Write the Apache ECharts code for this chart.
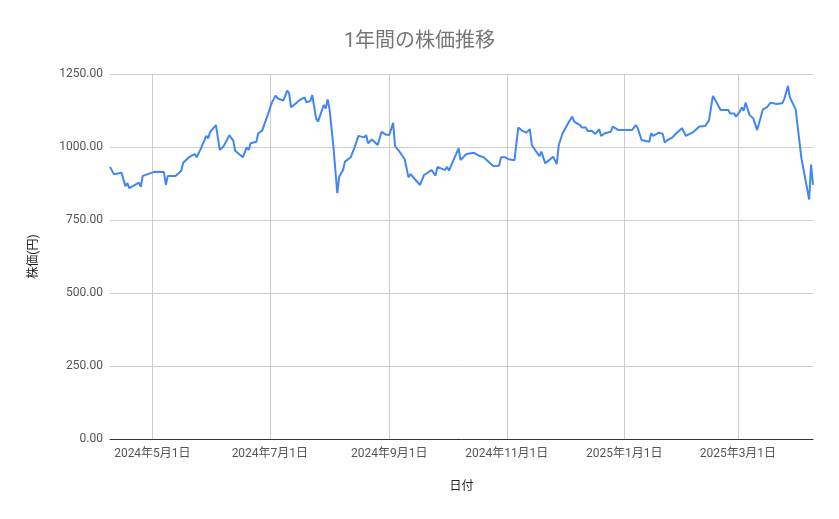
<!DOCTYPE html>
<html>
<head>
<meta charset="utf-8">
<script src="https://cdn.jsdelivr.net/npm/echarts@6/dist/echarts.min.js"></script>
<style>
html,body{margin:0;padding:0;background:#fff;}
#chart{width:839px;height:519px;}
</style>
</head>
<body>
<div id="chart"></div>
<script>
const titleText = '1年間の株価推移';
const xAxisName = '日付';
const yAxisName = '株価(円)';
const dates = [
'2024-04-09','2024-04-11','2024-04-15','2024-04-16','2024-04-17','2024-04-18','2024-04-19','2024-04-24','2024-04-25','2024-04-26',
'2024-05-02','2024-05-07','2024-05-08','2024-05-09','2024-05-13','2024-05-16','2024-05-17','2024-05-20','2024-05-21','2024-05-23',
'2024-05-24','2024-05-26','2024-05-29','2024-05-30','2024-05-31','2024-06-03','2024-06-05','2024-06-07','2024-06-10','2024-06-12',
'2024-06-13','2024-06-17','2024-06-19','2024-06-20','2024-06-21','2024-06-24','2024-06-25','2024-06-27','2024-06-30','2024-07-02',
'2024-07-03','2024-07-04','2024-07-05','2024-07-08','2024-07-10','2024-07-11','2024-07-12','2024-07-15','2024-07-16','2024-07-17',
'2024-07-19','2024-07-20','2024-07-22','2024-07-23','2024-07-25','2024-07-26','2024-07-29','2024-07-30','2024-07-31','2024-08-01',
'2024-08-03','2024-08-05','2024-08-06','2024-08-08','2024-08-09','2024-08-12','2024-08-14','2024-08-16','2024-08-19','2024-08-20',
'2024-08-21','2024-08-23','2024-08-26','2024-08-28','2024-08-30','2024-09-01','2024-09-03','2024-09-04','2024-09-06','2024-09-09',
'2024-09-11','2024-09-12','2024-09-17','2024-09-19','2024-09-23','2024-09-25','2024-09-26','2024-09-27','2024-09-30','2024-10-01',
'2024-10-02','2024-10-07','2024-10-08','2024-10-11','2024-10-15','2024-10-18','2024-10-20','2024-10-25','2024-10-28','2024-10-29',
'2024-10-31','2024-11-02','2024-11-05','2024-11-07','2024-11-09','2024-11-11','2024-11-13','2024-11-14','2024-11-16','2024-11-18',
'2024-11-19','2024-11-21','2024-11-23','2024-11-25','2024-11-27','2024-11-28','2024-11-30','2024-12-03','2024-12-04','2024-12-05',
'2024-12-06','2024-12-09','2024-12-10','2024-12-12','2024-12-13','2024-12-15','2024-12-17','2024-12-18','2024-12-19','2024-12-20',
'2024-12-22','2024-12-25','2024-12-26','2024-12-29','2025-01-05','2025-01-07','2025-01-08','2025-01-10','2025-01-14','2025-01-15',
'2025-01-16','2025-01-19','2025-01-21','2025-01-22','2025-01-23','2025-01-26','2025-01-28','2025-01-29','2025-01-31','2025-02-02',
'2025-02-06','2025-02-09','2025-02-12','2025-02-14','2025-02-16','2025-02-18','2025-02-20','2025-02-24','2025-02-25','2025-02-27',
'2025-02-28','2025-03-02','2025-03-03','2025-03-04','2025-03-05','2025-03-07','2025-03-09','2025-03-11','2025-03-12','2025-03-14',
'2025-03-16','2025-03-18','2025-03-21','2025-03-24','2025-03-25','2025-03-27','2025-03-28','2025-03-31','2025-04-01','2025-04-03',
'2025-04-07','2025-04-08','2025-04-09'
];
const prices = [
932,907,912,910,866,876,859,878,864,901,
915,914,870,901,901,919,946,965,961,976,
965,992,1038,1030,1052,1075,990,1003,1040,1022,
987,965,999,990,1013,1018,1047,1056,1112,1152,
1155,1176,1167,1159,1193,1184,1136,1152,1159,1155,
1170,1153,1158,1178,1098,1087,1144,1132,1163,1129,
1001,842,898,921,950,965,999,1038,1033,1041,
1013,1026,1007,1052,1043,1041,1083,1003,987,958,
896,907,870,904,921,902,932,928,921,932,
919,995,955,976,980,969,965,935,936,965,
965,958,955,1067,1056,1049,1061,1007,987,969,
984,944,955,967,942,1007,1047,1083,1079,1104,
1087,1075,1067,1067,1055,1056,1045,1041,1061,1038,
1047,1052,1070,1058,1058,1075,1064,1024,1018,1047,
1038,1049,1045,1015,1022,1033,1047,1045,1064,1038,
1052,1070,1072,1091,1175,1152,1127,1127,1115,1115,
1104,1121,1136,1124,1152,1110,1098,1058,1081,1129,
1136,1152,1147,1150,1163,1209,1170,1129,1124,961,
820,940,870
];
const xTickDates = ['2024-05-01','2024-07-01','2024-09-01','2024-11-01','2025-01-01','2025-03-01'];
const xRange = ['2024-04-09','2025-04-09'];
const yTicks = [0, 250, 500, 750, 1000, 1250];

function ts(s) {
  const p = s.split('-').map(Number);
  return new Date(p[0], p[1] - 1, p[2]).getTime();
}

const FONT = 'Roboto, "Noto Sans CJK JP", sans-serif';
const chart = echarts.init(document.getElementById('chart'), null, {renderer: 'canvas'});
const seriesData = dates.map((d, i) => [ts(d), prices[i]]);
const xTickValues = xTickDates.map(ts);
const option = {
  backgroundColor: '#ffffff',
  animation: false,
  title: {
    text: titleText,
    left: 'center',
    top: 27,
    textStyle: {fontFamily: FONT, fontSize: 20, fontWeight: 'normal', color: '#757575'}
  },
  grid: {left: 110, right: 26, top: 74, bottom: 80, containLabel: false},
  xAxis: {
    type: 'value',
    min: ts(xRange[0]),
    max: ts(xRange[1]),
    name: xAxisName,
    nameLocation: 'middle',
    nameGap: 42,
    nameTextStyle: {fontFamily: FONT, fontSize: 12, color: '#222'},
    axisLine: {show: true, onZero: false, lineStyle: {color: '#333', width: 1}},
    axisTick: {show: false, customValues: xTickValues},
    axisLabel: {
      customValues: xTickValues,
      fontFamily: FONT, fontSize: 12, color: '#555', margin: 9,
      formatter: function (v) {
        const d = new Date(v);
        return d.getFullYear() + '年' + (d.getMonth() + 1) + '月' + d.getDate() + '日';
      }
    },
    splitLine: {show: true, lineStyle: {color: '#cccccc', width: 1}}
  },
  yAxis: {
    type: 'value',
    min: yTicks[0],
    max: yTicks[yTicks.length - 1],
    interval: 250,
    name: yAxisName,
    nameLocation: 'middle',
    nameGap: 70,
    nameRotate: 90,
    nameTextStyle: {fontFamily: FONT, fontSize: 12, color: '#222'},
    axisLine: {show: false},
    axisTick: {show: false},
    axisLabel: {
      fontFamily: FONT, fontSize: 12, color: '#555', margin: 7,
      formatter: function (v) { return v.toFixed(2); }
    },
    splitLine: {show: true, lineStyle: {color: '#cccccc', width: 1}}
  },
  series: [{
    type: 'line',
    data: seriesData,
    showSymbol: false,
    symbol: 'none',
    lineStyle: {color: '#4285F4', width: 2},
    itemStyle: {color: '#4285F4'}
  }]
};
chart.setOption(option);
</script>
</body>
</html>
